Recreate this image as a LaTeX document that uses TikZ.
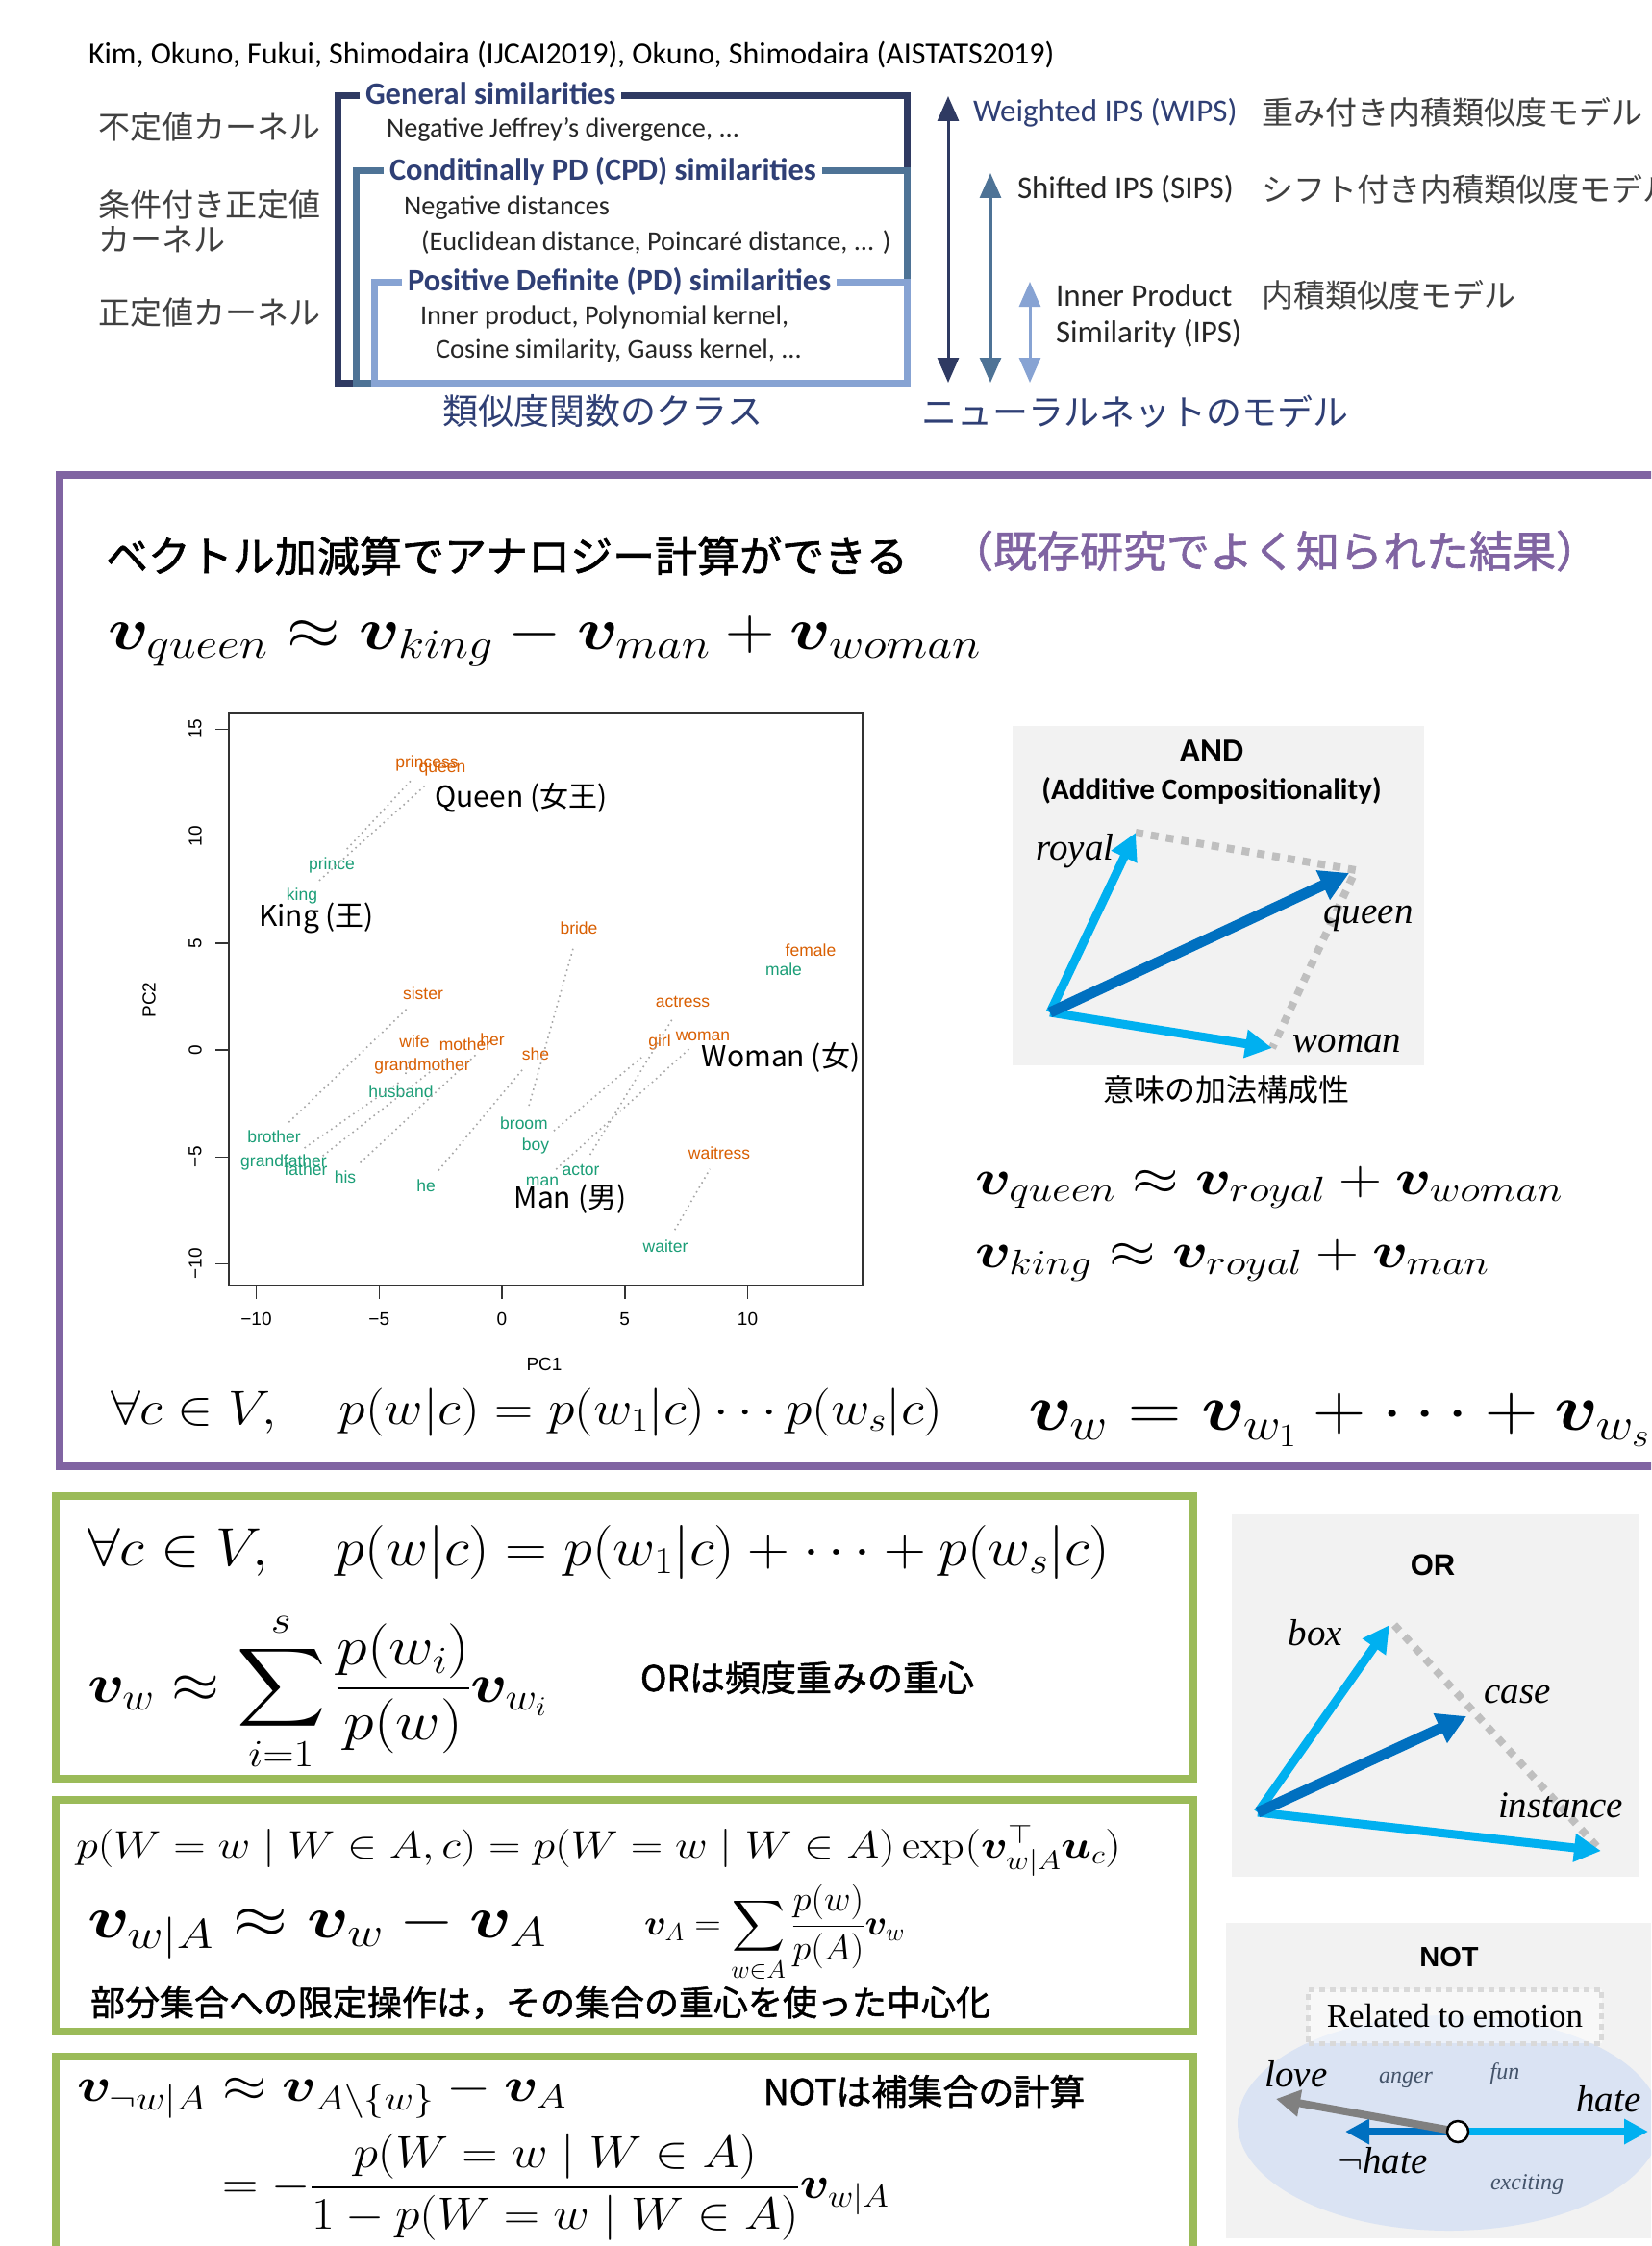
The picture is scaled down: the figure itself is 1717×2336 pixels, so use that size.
\RequirePackage{fix-cm}
\documentclass[tikz,border=0pt]{standalone}
\usepackage{amsmath,amssymb,bm}
\usepackage{fontspec}
\newfontfamily\jp{Noto Sans CJK JP}
\newfontfamily\jpm[FakeBold=1.4]{Noto Sans CJK JP}
\newfontfamily\calib{Carlito}
\newfontfamily\ari{Liberation Sans}
\newfontfamily\tms{Liberation Serif}
\usetikzlibrary{arrows.meta}
\newcommand\sz[1]{\fontsize{#1}{#1}\selectfont}
\definecolor{navyb}{HTML}{2F3A62}
\definecolor{steelb}{HTML}{4E7396}
\definecolor{lightb}{HTML}{87A3D3}
\definecolor{titleb}{HTML}{2F3F75}
\definecolor{purp}{HTML}{8064A2}
\definecolor{grn}{HTML}{9BBB59}
\definecolor{orng}{HTML}{D95F02}
\definecolor{tealw}{HTML}{1B9E77}
\definecolor{cyanA}{HTML}{00B0F0}
\definecolor{blueA}{HTML}{0070C0}
\definecolor{dotg}{HTML}{BFBFBF}
\definecolor{bgg}{HTML}{F2F2F2}
\definecolor{ellb}{HTML}{DAE3F3}
\definecolor{slate}{HTML}{44546A}
\definecolor{jgray}{HTML}{404040}
\begin{document}
\begin{tikzpicture}[x=1pt,y=-1pt,
  every node/.style={inner sep=0pt,outer sep=0pt},
  cite/.style={font=\calib\sz{32}, anchor=west},
  jlab/.style={font=\jp\sz{33}, anchor=west, text=jgray},
  btitle/.style={font=\calib\bfseries\sz{32.5}, anchor=west, text=titleb},
  btext/.style={font=\calib\sz{28.3}, anchor=west, text=black!85},
  rtext/.style={font=\calib\sz{33}, anchor=west, text=black!85},
  dblarr/.style={line width=3pt, {Triangle[length=26pt,width=22pt]}-{Triangle[length=26pt,width=22pt]}},
  wo/.style={font=\ari\sz{17.5}, text=orng},
  wg/.style={font=\ari\sz{17.5}, text=tealw},
  wbig/.style={font=\jp\sz{30}},
  tick/.style={font=\ari\sz{19}},
  gdot/.style={draw=black!35, line width=1.6pt, dash pattern=on 1.6pt off 4pt, shorten <=12pt, shorten >=12pt},
  vlt/.style={draw=cyanA, line width=9pt, -{Triangle[length=28pt,width=28pt]}},
  vdk/.style={draw=blueA, line width=11pt, -{Triangle[length=30pt,width=32pt]}},
  gdash/.style={draw=dotg, line width=8pt, dash pattern=on 8pt off 8pt},
  itl/.style={font=\tms\itshape\sz{39}},
  small/.style={font=\tms\itshape\sz{24}, text=slate},
  mth/.style={anchor=base west},
  jpb/.style={font=\jpm\sz{37}, anchor=west},
]
\useasboundingbox (0,0) rectangle (1717,2336);
\clip (0,0) rectangle (1717,2336);
\fill[white] (0,0) rectangle (1717,2336);

% ---------------- top section
\node[cite] (cite) at (92,57) {Kim, Okuno, Fukui, Shimodaira (IJCAI2019), Okuno, Shimodaira (AISTATS2019)};

\node[jlab] (jl1) at (102,132) {不定値カーネル};
\node[jlab] (jl2) at (102,213) {条件付き正定値};
\node[jlab] (jl3) at (102,249) {カーネル};
\node[jlab] (jl4) at (102,325) {正定値カーネル};

\node[btitle] (tg) at (380,97) {General similarities};
\node[btitle] (tc) at (405,178) {Conditinally PD (CPD) similarities};
\node[btitle] (tp) at (424,293) {Positive Definite (PD) similarities};

\draw[navyb, line width=7pt] ([xshift=-6pt]tg.west |- 0,100) -- (351,100) -- (351,398) -- (943,398) -- (943,100) -- ([xshift=6pt]tg.east |- 0,100);
\draw[steelb, line width=7pt] ([xshift=-6pt]tc.west |- 0,178) -- (370,178) -- (370,398) -- (943,398) -- (943,178) -- ([xshift=6pt]tc.east |- 0,178);
\draw[lightb, line width=7pt] ([xshift=-6pt]tp.west |- 0,293) -- (389,293) -- (389,398) -- (943,398) -- (943,293) -- ([xshift=6pt]tp.east |- 0,293);

\node[btext] (t1) at (402,135) {Negative Jeffrey’s divergence, ...};
\node[btext] (t2) at (420,216) {Negative distances};
\node[btext] (t3) at (438,252) {(Euclidean distance, Poincaré distance, ... )};
\node[btext] (t4) at (437,330) {Inner product, Polynomial kernel,};
\node[btext] (t5) at (453,365) {Cosine similarity, Gauss kernel, ...};

\coordinate (a1t) at (986,100); \coordinate (a1b) at (986,398);
\coordinate (a2t) at (1030,180); \coordinate (a2b) at (1030,398);
\coordinate (a3t) at (1071,293); \coordinate (a3b) at (1071,398);
\draw[dblarr, navyb] (a1t) -- (a1b);
\draw[dblarr, steelb] (a2t) -- (a2b);
\draw[dblarr, lightb] (a3t) -- (a3b);

\node[rtext, text=titleb] (wips) at (1012,117) {Weighted IPS (WIPS)};
\node[jlab] (wipsj) at (1312,117) {重み付き内積類似度モデル};
\node[rtext] (sips) at (1058,197) {Shifted IPS (SIPS)};
\node[jlab] (sipsj) at (1312,197) {シフト付き内積類似度モデル};
\node[rtext] (ips1) at (1098,307) {Inner Product};
\node[rtext] (ips2) at (1098,347) {Similarity (IPS)};
\node[jlab] (ipsj) at (1312,307) {内積類似度モデル};
\node[font=\jp\sz{37}, text=titleb] (cls) at (627,428) {類似度関数のクラス};
\node[font=\jp\sz{37}, text=titleb] (nn) at (1180,428) {ニューラルネットのモデル};

% ---------------- purple section
\draw[purp, line width=8pt] (62,494) rectangle (1760,1525);
\node[font=\jpm\sz{44}, anchor=west] (h1) at (110,578) {ベクトル加減算でアナロジー計算ができる};
\node[font=\jpm\sz{45}, anchor=west, text=purp] (h2) at (988,573) {（既存研究でよく知られた結果）};
\node[mth, font=\sz{62}, xscale=1.15] (eq1) at (112,675) {$\bm{v}_{queen}\approx\bm{v}_{king}-\bm{v}_{man}+\bm{v}_{woman}$};

% plot
\draw[black!80, line width=1.5pt] (238,742) rectangle (897,1337);
\foreach \v/\l in {-10/−10,-5/−5,0/0,5/5,10/10} {
  \draw[black!80, line width=1.5pt] (522+25.55*\v,1337) -- (522+25.55*\v,1351);
  \node[tick] (xt\v) at (522+25.55*\v,1372) {\l};
}
\foreach \v/\l in {-10/−10,-5/−5,0/0,5/5,10/10,15/15} {
  \draw[black!80, line width=1.5pt] (238,1092-22.25*\v) -- (224,1092-22.25*\v);
  \node[tick, rotate=90] (yt\v) at (203,1092-22.25*\v) {\l};
}
\node[tick] (pc1) at (566,1419) {PC1};
\node[tick, rotate=90] (pc2) at (155,1040) {PC2};

\node[wo] (princess) at (444,794) {princess};
\node[wo] (queen) at (460,801) {queen};
\node[wg] (prince) at (345,900) {prince};
\node[wg] (king) at (314,932) {king};
\node[wo] (bride) at (602,965) {bride};
\node[wo] (female) at (843,988) {female};
\node[wg] (male) at (815,1008) {male};
\node[wo] (sister) at (440,1033) {sister};
\node[wo] (actress) at (710,1042) {actress};
\node[wo] (wife) at (431,1083) {wife};
\node[wo] (mother) at (484,1086) {mother};
\node[wo] (her) at (512,1081) {her};
\node[wo] (she) at (557,1096) {she};
\node[wo] (girl) at (686,1084) {girl};
\node[wo] (woman) at (731,1078) {woman};
\node[wo] (grandmother) at (439,1109) {grandmother};
\node[wg] (husband) at (417,1135) {husband};
\node[wg] (broom) at (545,1168) {broom};
\node[wg] (brother) at (285,1182) {brother};
\node[wg] (boy) at (557,1192) {boy};
\node[wo] (waitress) at (748,1199) {waitress};
\node[wg] (grandfather) at (295,1209) {grandfather};
\node[wg] (father) at (318,1216) {father};
\node[wg] (actor) at (604,1217) {actor};
\node[wg] (his) at (359,1224) {his};
\node[wg] (man) at (564,1229) {man};
\node[wg] (he) at (443,1233) {he};
\node[wg] (waiter) at (692,1296) {waiter};

\node[wbig] (Queen) at (542,830) {Queen (女王)};
\node[wbig] (King) at (329,955) {King (王)};
\node[wbig] (Woman) at (812,1100) {Woman (女)};
\node[wbig] (Man) at (593,1247) {Man (男)};

\draw[gdot] (king) -- (queen);
\draw[gdot] (prince) -- (princess);
\draw[gdot] (brother) -- (sister);
\draw[gdot] (grandfather) -- (grandmother);
\draw[gdot] (father) -- (mother);
\draw[gdot] (his) -- (her);
\draw[gdot] (husband) -- (wife);
\draw[gdot] (he) -- (she);
\draw[gdot] (broom) -- (bride);
\draw[gdot] (boy) -- (girl);
\draw[gdot] (man) -- (woman);
\draw[gdot] (actor) -- (actress);
\draw[gdot] (waiter) -- (waitress);

% AND diagram
\fill[bgg] (1053,755) rectangle (1481,1108);
\node[font=\calib\bfseries\sz{35}] (and) at (1260,781) {AND};
\node[font=\calib\bfseries\sz{31}] (addc) at (1260,822) {(Additive Compositionality)};
\coordinate (o1) at (1092,1053);
\coordinate (royalT) at (1181,866);
\coordinate (queenT) at (1403,908);
\coordinate (womanT) at (1323,1090);
\coordinate (qcorner) at (1410,905);
\draw[gdash] (royalT) -- (qcorner) -- (womanT);
\draw[vlt] (o1) -- (royalT);
\draw[vlt] (o1) -- (womanT);
\draw[vdk] (o1) -- (queenT);
\node[itl] (lroyal) at (1118,885) {royal};
\node[itl] (lqueen) at (1423,955) {queen};
\node[itl] (lwoman) at (1401,1085) {woman};
\node[font=\jp\sz{32}] (imi) at (1275,1133) {意味の加法構成性};

\node[mth, font=\sz{52}, xscale=1.2] (eqr1) at (1014,1242) {$\bm{v}_{queen}\approx\bm{v}_{royal}+\bm{v}_{woman}$};
\node[mth, font=\sz{52}, xscale=1.2] (eqr2) at (1014,1318) {$\bm{v}_{king}\approx\bm{v}_{royal}+\bm{v}_{man}$};
\node[mth, font=\sz{50}, xscale=1.115] (prod) at (115,1481) {$\forall c\in V,\quad p(w|c)=p(w_1|c)\cdots p(w_s|c)$};
\node[mth, font=\sz{68}, xscale=1.125] (vsum) at (1069,1487) {$\bm{v}_w=\bm{v}_{w_1}+\cdots+\bm{v}_{w_s}$};

% green box 1
\draw[grn, line width=8pt] (58,1556) rectangle (1241,1850);
\node[mth, font=\sz{56}, xscale=1.084] (or1) at (91,1628) {$\forall c\in V,\quad p(w|c)=p(w_1|c)+\cdots+p(w_s|c)$};
\node[mth, font=\sz{57}, xscale=1.125] (or2) at (91,1770) {$\displaystyle\bm{v}_w\approx\sum_{i=1}^{s}\frac{p(w_i)}{p(w)}\bm{v}_{w_i}$};
\node[jpb] (or3) at (666,1745) {ORは頻度重みの重心};

% green box 2
\draw[grn, line width=8pt] (58,1872) rectangle (1241,2113);
\node[mth, font=\sz{40}, xscale=1.16] (sb1) at (79,1932) {$p(W=w\mid W\in A,c)=p(W=w\mid W\in A)\exp(\bm{v}_{w|A}^{\top}\bm{u}_c)$};
\node[mth, font=\sz{62}, xscale=1.18] (sb2) at (91,2015) {$\bm{v}_{w|A}\approx\bm{v}_w-\bm{v}_A$};
\node[anchor=west, font=\sz{37}, xscale=1.03] (sb3) at (670,2011) {$\displaystyle\bm{v}_A=\sum_{w\in A}\frac{p(w)}{p(A)}\bm{v}_w$};
\node[font=\jpm\sz{36}, anchor=west] (sb4) at (94,2083) {部分集合への限定操作は，その集合の重心を使った中心化};

% green box 3
\draw[grn, line width=8pt] (58,2139) rectangle (1241,2400);
\node[mth, font=\sz{50}, xscale=1.19] (nt1) at (80,2185) {$\bm{v}_{\neg w|A}\approx\bm{v}_{A\setminus\{w\}}-\bm{v}_A$};
\node[jpb] (nt2) at (794,2175) {NOTは補集合の計算};
\node[anchor=west, font=\sz{47}, xscale=1.1] (nt3) at (231,2275) {$\displaystyle=-\frac{p(W=w\mid W\in A)}{1-p(W=w\mid W\in A)}\bm{v}_{w|A}$};

% OR diagram
\fill[bgg] (1281,1575) rectangle (1705,1952);
\node[font=\ari\bfseries\sz{31}] (orl) at (1490,1628) {OR};
\coordinate (o2) at (1308,1885);
\coordinate (boxT) at (1445,1690);
\coordinate (caseT) at (1525,1785);
\coordinate (instT) at (1665,1925);
\coordinate (bcorner) at (1450,1690);
\coordinate (icorner) at (1663,1923);
\draw[gdash] (bcorner) -- (icorner);
\draw[vlt] (o2) -- (boxT);
\draw[vlt] (o2) -- (instT);
\draw[vdk] (o2) -- (caseT);
\node[itl] (lbox) at (1368,1698) {box};
\node[itl] (lcase) at (1578,1762) {case};
\node[itl] (linst) at (1623,1878) {instance};

% NOT diagram
\fill[bgg] (1275,2000) rectangle (1717,2328);
\fill[ellb] (1507,2208) ellipse [x radius=220, y radius=112];
\node[draw=black!15, line width=5pt, dash pattern=on 6pt off 5pt, fill=white, fill opacity=0.5, text opacity=1, minimum width=305pt, minimum height=56pt] (rel) at (1513,2097) {\tms\sz{35}Related to emotion};
\node[font=\ari\bfseries\sz{29}] (notl) at (1507,2035) {NOT};
\coordinate (c0) at (1516,2217);
\coordinate (hateT) at (1714,2217);
\coordinate (nhateT) at (1399,2217);
\coordinate (loveT) at (1327,2183);
\draw[draw=cyanA, line width=8pt, -{Triangle[length=25pt,width=25pt]}] (c0) -- (hateT);
\draw[draw=blueA, line width=8pt, -{Triangle[length=25pt,width=25pt]}] (c0) -- (nhateT);
\draw[draw=black!50, line width=8pt, -{Triangle[length=25pt,width=27pt]}] (c0) -- (loveT);
\node[circle, draw=black, line width=2.5pt, fill=white, minimum size=22pt] (c0n) at (c0) {};
\node[itl] (llove) at (1348,2157) {love};
\node[small] (langer) at (1462,2163) {anger};
\node[small] (lfun) at (1565,2157) {fun};
\node[itl] (lhate) at (1673,2183) {hate};
\node[itl] (lnhate) at (1438,2247) {$\neg$hate};
\node[small] (lexc) at (1588,2272) {exciting};
\end{tikzpicture}
\end{document}
